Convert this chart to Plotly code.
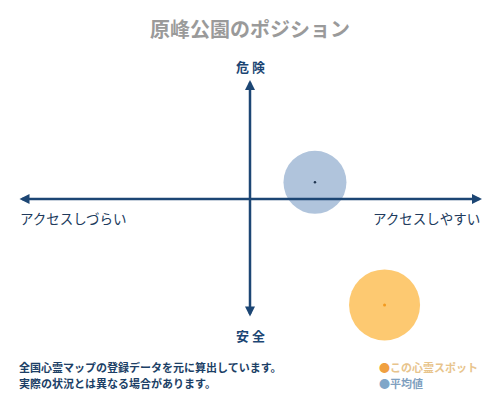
import plotly.graph_objects as go

# データ
title_text = "原峰公園のポジション"
axis_top = "危 険"
axis_bottom = "安 全"
axis_left = "アクセスしづらい"
axis_right = "アクセスしやすい"
notes = ["全国心霊マップの登録データを元に算出しています。",
         "実際の状況とは異なる場合があります。"]

series_names = ["平均値", "この心霊スポット"]
access_x = [0.28, 0.58]      # アクセスしやすさ (-1..1)
danger_y = [0.14, -0.89]     # 危険度 (-1..1)
bubble_px = [63, 71]
bubble_colors = ["#b0c4dc", "#fdc971"]
dot_colors = ["#1f3550", "#f39a1e"]
legend_dot = ["#7fa6c8", "#f0a040"]
legend_txt = ["#7fa0c0", "#e8c48c"]

navy = "#1c4674"

# プロット領域 (px)
W, H = 500, 400
ML, MR, MT, MB = 18, 18, 80, 82
ph = H - MT - MB


def py(pix):
    # ピクセルの y 位置を paper 座標へ
    return (H - MB - pix) / ph


def px(pix):
    return (pix - ML) / (W - ML - MR)


fig = go.Figure()

# バブル
for i in range(len(series_names)):
    fig.add_trace(go.Scatter(
        x=[access_x[i]], y=[danger_y[i]], mode="markers", name=series_names[i],
        marker=dict(size=bubble_px[i], color=bubble_colors[i], line=dict(width=0)),
        cliponaxis=False, hoverinfo="name", showlegend=False))

# 中心の点
for i in range(len(series_names)):
    fig.add_trace(go.Scatter(
        x=[access_x[i]], y=[danger_y[i]], mode="markers",
        marker=dict(size=3 if i else 2.5, color=dot_colors[i]),
        cliponaxis=False, hoverinfo="skip", showlegend=False))

# 両矢印の軸 (バブルの上に描く)
arrow = dict(xref="x", yref="y", axref="x", ayref="y", text="", showarrow=True,
             arrowhead=2, arrowside="end+start", arrowsize=0.8, arrowwidth=2.5,
             arrowcolor=navy)
annotations = [dict(arrow, x=0, y=1, ax=0, ay=-1),
               dict(arrow, x=1, y=0, ax=-1, ay=0)]

lbl = dict(family="Noto Sans CJK JP", color=navy)
annotations += [
    dict(text="<b>" + axis_top + "</b>", x=0, y=1, xref="x", yref="y", yshift=2,
         yanchor="bottom", showarrow=False, font=dict(lbl, size=13)),
    dict(text="<b>" + axis_bottom + "</b>", x=0, y=-1, xref="x", yref="y", yshift=-6,
         yanchor="top", showarrow=False, font=dict(lbl, size=13)),
    dict(text=axis_left, x=-1, y=0, xref="x", yref="y", yshift=-7, xanchor="left",
         yanchor="top", showarrow=False, font=dict(lbl, size=13.5, color="#203a5c")),
    dict(text=axis_right, x=1, y=0, xref="x", yref="y", yshift=-7, xanchor="right",
         yanchor="top", showarrow=False, font=dict(lbl, size=13.5, color="#203a5c")),
]

# 注記 (1行ずつ)
line_y = [367, 383]
for k, note in enumerate(notes):
    annotations.append(dict(text="<b>" + note + "</b>", x=px(17), y=py(line_y[k]),
                            xref="paper", yref="paper", xanchor="left", yanchor="middle",
                            showarrow=False, font=dict(lbl, size=11, color="#1c3f66")))

# 凡例
for k, i in enumerate([1, 0]):
    item = ("<span style='color:%s'>●</span><b><span style='color:%s'>%s</span></b>"
            % (legend_dot[i], legend_txt[i], series_names[i]))
    annotations.append(dict(text=item, x=px(377), y=py(line_y[k]),
                            xref="paper", yref="paper", xanchor="left", yanchor="middle",
                            showarrow=False,
                            font=dict(family="Noto Sans CJK JP", size=11)))

fig.update_layout(
    width=W, height=H,
    title=dict(text="<b>" + title_text + "</b>", x=0.5, y=0.925, xanchor="center",
               yanchor="middle",
               font=dict(family="Noto Sans CJK JP", size=20, color="#9a9a9a")),
    paper_bgcolor="white", plot_bgcolor="white",
    margin=dict(l=ML, r=MR, t=MT, b=MB),
    xaxis=dict(range=[-1, 1], visible=False, fixedrange=True),
    yaxis=dict(range=[-1, 1], visible=False, fixedrange=True),
    annotations=annotations,
    showlegend=False,
)

fig.write_html("out.html", config={"displayModeBar": False},
               post_script="document.body.style.margin='0';")
